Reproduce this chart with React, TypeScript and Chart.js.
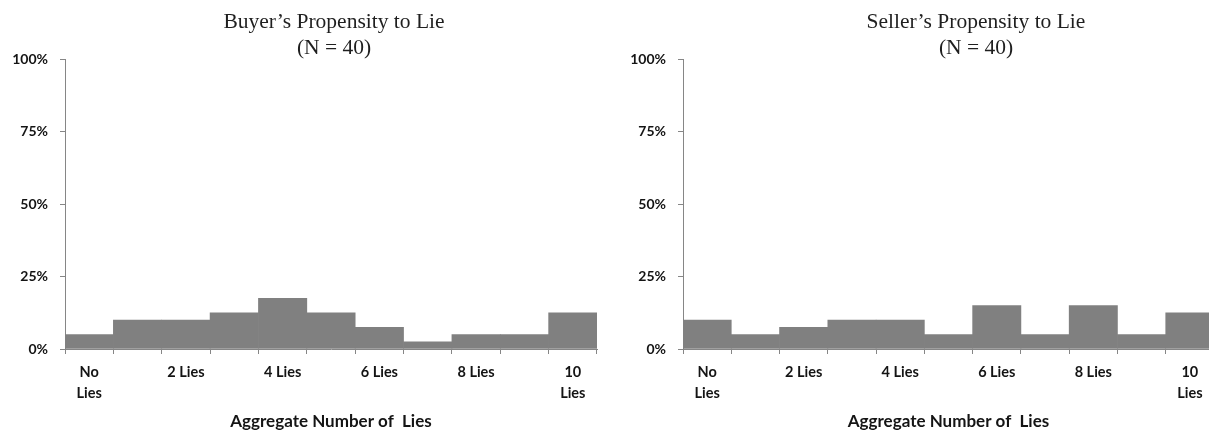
import React, { useEffect, useRef } from 'react';
import { Chart, registerables } from 'chart.js';

Chart.register(...registerables);

// ---- data ----
const categories = ['0', '1', '2', '3', '4', '5', '6', '7', '8', '9', '10'];
const xTickLabels: (string | string[])[] = [
  ['No', 'Lies'], '', '2 Lies', '', '4 Lies', '', '6 Lies', '', '8 Lies', '', ['10', 'Lies'],
];
const buyerShares = [5, 10, 10, 12.5, 17.5, 12.5, 7.5, 2.5, 5, 5, 12.5];
const sellerShares = [10, 5, 7.5, 10, 10, 5, 15, 5, 15, 5, 12.5];
const yTickValues = [0, 25, 50, 75, 100];
const buyerTitle = ['Buyer\u2019s Propensity to Lie', '(N = 40)'];
const sellerTitle = ['Seller\u2019s Propensity to Lie', '(N = 40)'];
const xAxisTitle = 'Aggregate Number of  Lies';

// ---- styles ----
const BAR = '#808080';
const AXIS = '#868686';
const TEXT = '#141414';
const FAMILY = 'Lato, "Liberation Sans", sans-serif';

type HistProps = {
  values: number[];
  title: string[];
  left: number;
  width: number;
  axisWidth: number;
  padRight: number;
  titleCenter: number;
};

function Histogram({ values, title, left, width, axisWidth, padRight, titleCenter }: HistProps) {
  const ref = useRef<HTMLCanvasElement | null>(null);

  useEffect(() => {
    if (!ref.current) return;
    const titlePlugin = {
      id: 'twoLineTitle',
      afterDraw(chart: any) {
        const ctx = chart.ctx;
        ctx.save();
        ctx.font = '21.5px "Liberation Serif", serif';
        ctx.fillStyle = '#1f1f1f';
        ctx.textAlign = 'center';
        ctx.textBaseline = 'alphabetic';
        title.forEach((line, i) => ctx.fillText(line, titleCenter, 28 + i * 26));
        ctx.restore();
      },
    };
    const chart = new Chart(ref.current, {
      type: 'bar',
      data: {
        labels: categories,
        datasets: [
          {
            data: values,
            backgroundColor: BAR,
            borderWidth: 0,
            barPercentage: 1,
            categoryPercentage: 1,
          },
        ],
      },
      options: {
        responsive: false,
        animation: false,
        layout: { padding: { top: 59, right: padRight, left: 0, bottom: 0 } },
        plugins: {
          legend: { display: false },
          tooltip: { enabled: false },
          title: { display: false },
        },
        scales: {
          x: {
            grid: { offset: true, drawOnChartArea: false, drawTicks: true, tickLength: 5, color: AXIS },
            border: { display: true, color: AXIS, width: 1 },
            ticks: {
              autoSkip: false,
              maxRotation: 0,
              minRotation: 0,
              padding: 8,
              color: TEXT,
              font: { family: FAMILY, weight: 'bold', size: 14.5, lineHeight: 1.45 },
              callback: (_v: any, i: number) => xTickLabels[i],
            },
            title: {
              display: true,
              text: xAxisTitle,
              color: TEXT,
              font: { family: FAMILY, weight: 'bold', size: 17, lineHeight: 1.2 },
              padding: { top: 0, bottom: 2 },
            },
            afterFit: (s: any) => {
              s.height = 85;
            },
          },
          y: {
            min: 0,
            max: 100,
            afterBuildTicks: (s: any) => {
              s.ticks = yTickValues.map((v) => ({ value: v }));
            },
            grid: { drawOnChartArea: false, drawTicks: true, tickLength: 5, color: AXIS },
            border: { display: true, color: AXIS, width: 1 },
            ticks: {
              padding: 12,
              color: TEXT,
              font: { family: FAMILY, weight: 'bold', size: 14, lineHeight: 1.2 },
              callback: (v: any) => `${v}%`,
            },
            afterFit: (s: any) => {
              s.width = axisWidth;
            },
          },
        },
      } as any,
      plugins: [titlePlugin],
    });
    return () => chart.destroy();
  }, [values, title, width, axisWidth, padRight, titleCenter]);

  return (
    <canvas
      ref={ref}
      width={width}
      height={434}
      style={{ position: 'absolute', left, top: 0, width, height: 434 }}
    />
  );
}

export default function App() {
  return (
    <div
      style={{
        position: 'absolute',
        left: 0,
        top: 0,
        width: 1209,
        height: 434,
        overflow: 'hidden',
        background: '#ffffff',
      }}
    >
      <Histogram values={buyerShares} title={buyerTitle} left={0} width={604} axisWidth={65} padRight={7} titleCenter={334} />
      <Histogram values={sellerShares} title={sellerTitle} left={604} width={610} axisWidth={79} padRight={0} titleCenter={372} />
    </div>
  );
}
